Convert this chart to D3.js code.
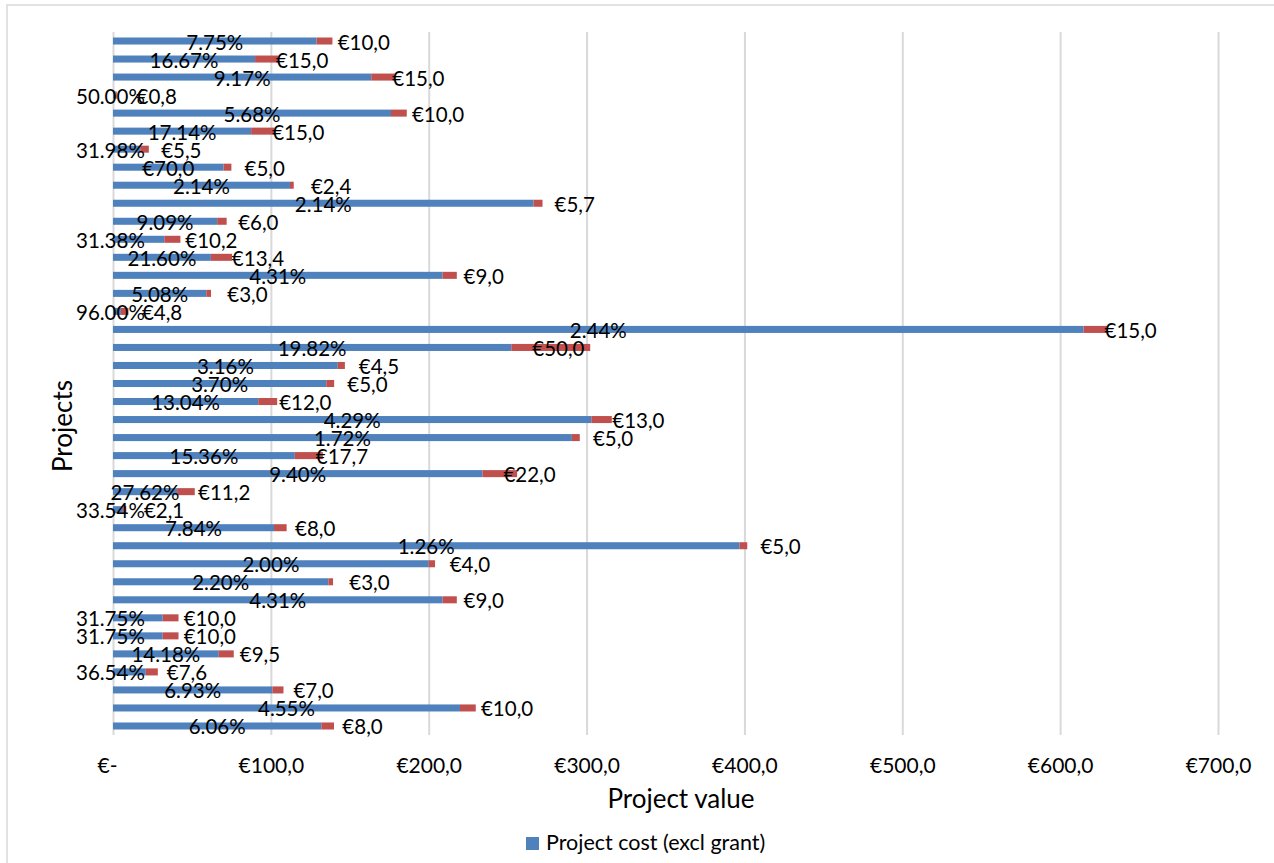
<!DOCTYPE html>
<html>
<head>
<meta charset="utf-8">
<script src="https://cdn.jsdelivr.net/npm/d3@7"></script>
<style>
  html, body { margin: 0; padding: 0; background: #ffffff; }
  svg { display: block; font-family: Lato, "Open Sans", sans-serif; }
</style>
</head>
<body>
<svg id="chart" width="1274" height="863"></svg>
<script>
// ---- Data (top row first) ----
const projects = d3.range(1, 40).map(i => "Project " + i);
const projectCost = [129.0, 90.0, 163.6, 1.6, 176.1, 87.5, 17.2, 70.0, 112.1, 266.4,
  66.0, 32.5, 62.0, 208.8, 59.1, 5.0, 614.8, 252.3, 142.4, 135.1,
  92.0, 303.0, 290.7, 115.2, 234.0, 40.6, 6.3, 102.0, 396.8, 200.0,
  136.4, 208.8, 31.5, 31.5, 67.0, 20.8, 101.0, 219.8, 132.0];
const grant = [10, 15, 15, 0.8, 10, 15, 5.5, 5, 2.4, 5.7,
  6, 10.2, 13.4, 9, 3, 4.8, 15, 50, 4.5, 5,
  12, 13, 5, 17.7, 22, 11.2, 2.1, 8, 5, 4,
  3, 9, 10, 10, 9.5, 7.6, 7, 10, 8];
const pctLabels = ["7.75%", "16.67%", "9.17%", "50.00%", "5.68%", "17.14%", "31.98%", "€70,0", "2.14%", "2.14%",
  "9.09%", "31.38%", "21.60%", "4.31%", "5.08%", "96.00%", "2.44%", "19.82%", "3.16%", "3.70%",
  "13.04%", "4.29%", "1.72%", "15.36%", "9.40%", "27.62%", "33.54%", "7.84%", "1.26%", "2.00%",
  "2.20%", "4.31%", "31.75%", "31.75%", "14.18%", "36.54%", "6.93%", "4.55%", "6.06%"];
const xTicks = [0, 100, 200, 300, 400, 500, 600, 700];
const seriesNames = ["Project cost (excl grant)", "Grant"];
const colors = ["#4F81BD", "#C0504D"];

const euro = v => v === 0 ? "€-" : "€" + v.toFixed(1).replace(".", ",");

// ---- Layout ----
const svg = d3.select("#chart");
const plotLeft = 113, plotRight = 1218, plotTop = 32, plotBottom = 735;

const x = d3.scaleLinear().domain([0, 700]).range([plotLeft, plotRight]);
const y = d3.scaleBand().domain(projects).range([plotTop, plotBottom])
  .paddingInner(0.61).paddingOuter(0.305);

// chart border
svg.append("rect").attr("x", 7).attr("y", 5).attr("width", 1300).attr("height", 900)
  .attr("fill", "none").attr("stroke", "#d9d9d9").attr("stroke-width", 1.5);

// gridlines
const grid = svg.append("g").attr("transform", `translate(0,${plotBottom})`)
  .call(d3.axisBottom(x).tickValues(xTicks).tickSize(-(plotBottom - plotTop)).tickFormat(""));
grid.select(".domain").remove();
grid.selectAll(".tick line").attr("stroke", "#d9d9d9").attr("stroke-width", 2);

// tick labels
const axis = svg.append("g").attr("transform", `translate(0,${plotBottom})`)
  .call(d3.axisBottom(x).tickValues(xTicks).tickSize(0).tickFormat(euro));
axis.select(".domain").remove();
axis.selectAll(".tick text")
  .attr("y", 38).attr("dy", 0)
  .attr("font-family", "Lato, sans-serif").attr("font-size", 21).attr("fill", "#000")
  .attr("dx", d => d === 0 ? -6 : 0);

// bars
const rows = projects.map((p, i) => ({ p, i, cost: projectCost[i], grant: grant[i], pct: pctLabels[i] }));
const bars = svg.append("g");
bars.selectAll("rect.cost").data(rows).join("rect").attr("class", "cost")
  .attr("x", x(0)).attr("y", d => y(d.p))
  .attr("width", d => x(d.cost) - x(0)).attr("height", y.bandwidth())
  .attr("fill", colors[0]);
bars.selectAll("rect.grant").data(rows).join("rect").attr("class", "grant")
  .attr("x", d => x(d.cost)).attr("y", d => y(d.p))
  .attr("width", d => x(d.cost + d.grant) - x(d.cost)).attr("height", y.bandwidth())
  .attr("fill", colors[1]);

// labels
const labels = svg.append("g").attr("font-size", 20.5).attr("fill", "#000");
const leftEdge = 76;
const narrow = d => x(d.cost) - x(0) < 58;
labels.selectAll("text.pct").data(rows).join("text").attr("class", "pct")
  .attr("x", d => narrow(d) ? leftEdge : x(d.cost / 2))
  .attr("y", d => y(d.p) + y.bandwidth() / 2 + 8.5)
  .attr("text-anchor", d => narrow(d) ? "start" : "middle").text(d => d.pct);
labels.selectAll("text.grant").data(rows).join("text").attr("class", "grant")
  .attr("x", d => x(d.cost) + 21).attr("y", d => y(d.p) + y.bandwidth() / 2 + 8.5)
  .attr("text-anchor", "start").text(d => euro(d.grant));

// axis titles
svg.append("text").attr("x", 681).attr("y", 808).attr("text-anchor", "middle")
  .attr("font-size", 26).text("Project value");
svg.append("text").attr("transform", "translate(72,426) rotate(-90)").attr("text-anchor", "middle")
  .attr("font-size", 26).text("Projects");

// legend
const lg = svg.append("g").attr("transform", "translate(526,837)");
lg.append("rect").attr("width", 13).attr("height", 13).attr("fill", colors[0]);
lg.append("text").attr("x", 20).attr("y", 13).attr("font-size", 21.5).text(seriesNames[0]);
</script>
</body>
</html>
